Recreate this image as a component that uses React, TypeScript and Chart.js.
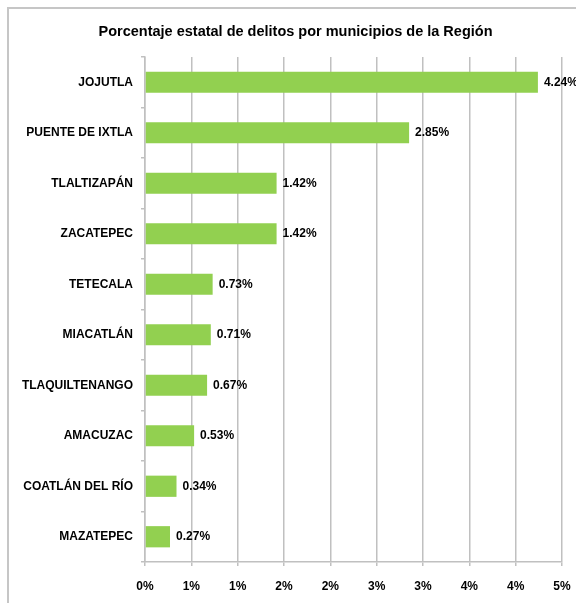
import React, { useEffect, useRef } from "react";
import { Chart, registerables } from "chart.js";

Chart.register(...registerables);

const municipios = [
  "JOJUTLA",
  "PUENTE DE IXTLA",
  "TLALTIZAPÁN",
  "ZACATEPEC",
  "TETECALA",
  "MIACATLÁN",
  "TLAQUILTENANGO",
  "AMACUZAC",
  "COATLÁN DEL RÍO",
  "MAZATEPEC",
];
const porcentajes = [4.24, 2.85, 1.42, 1.42, 0.73, 0.71, 0.67, 0.53, 0.34, 0.27];
const xTickLabels = ["0%", "1%", "1%", "2%", "2%", "3%", "3%", "4%", "4%", "5%"];
const titulo = "Porcentaje estatal de delitos por municipios de la Región";

const FONT = "'Liberation Sans', Arial, sans-serif";

const frameAndLabels = {
  id: "frameAndLabels",
  beforeDraw(chart: any) {
    const ctx = chart.ctx;
    ctx.save();
    ctx.fillStyle = "#ffffff";
    ctx.fillRect(0, 0, chart.width, chart.height);
    ctx.fillStyle = "#C6C6C6";
    ctx.fillRect(7, 7, chart.width - 7, 2);
    ctx.fillRect(7, 7, 2, chart.height - 7);
    ctx.font = `bold 14.5px ${FONT}`;
    ctx.fillStyle = "#000000";
    ctx.textAlign = "center";
    ctx.textBaseline = "middle";
    ctx.fillText(titulo, 295.5, 32);
    ctx.restore();
  },
  afterDatasetsDraw(chart: any) {
    const ctx = chart.ctx;
    const meta = chart.getDatasetMeta(0);
    const data = chart.data.datasets[0].data as number[];
    ctx.save();
    ctx.font = `bold 12px ${FONT}`;
    ctx.fillStyle = "#000000";
    ctx.textAlign = "left";
    ctx.textBaseline = "middle";
    meta.data.forEach((bar: any, i: number) => {
      ctx.fillText(`${data[i].toFixed(2)}%`, bar.x + 6, bar.y);
    });
    ctx.restore();
  },
};

export default function App() {
  const canvasRef = useRef<HTMLCanvasElement | null>(null);

  useEffect(() => {
    if (!canvasRef.current) return;
    const chart = new Chart(canvasRef.current, {
      type: "bar",
      data: {
        labels: municipios,
        datasets: [
          {
            data: porcentajes,
            backgroundColor: "#92D050",
            borderWidth: 0,
            barPercentage: 0.42,
            categoryPercentage: 1,
          },
        ],
      },
      options: {
        indexAxis: "y",
        responsive: false,
        animation: false,
        layout: { padding: { left: 0, right: 14, top: 57, bottom: 0 } },
        plugins: {
          legend: { display: false },
          tooltip: { enabled: false },
          title: { display: false },
        },
        scales: {
          x: {
            min: 0,
            max: 4.5,
            afterFit(scale: any) {
              scale.height = 41;
              scale.paddingLeft = 0;
              scale.paddingRight = 0;
            },
            ticks: {
              stepSize: 0.5,
              color: "#000000",
              font: { family: FONT, size: 12, weight: "bold" },
              padding: 13,
              maxRotation: 0,
              autoSkip: false,
              callback: (_v: any, i: number) => xTickLabels[i],
            },
            grid: {
              color: "#C0C0C0",
              lineWidth: 1.5,
              drawTicks: true,
              tickLength: 4,
            },
            border: { display: true, color: "#C0C0C0", width: 1.5 },
          },
          y: {
            afterFit(scale: any) {
              scale.width = 145;
            },
            ticks: {
              color: "#000000",
              font: { family: FONT, size: 12, weight: "bold" },
              padding: 8,
              autoSkip: false,
            },
            grid: {
              offset: true,
              drawOnChartArea: false,
              drawTicks: true,
              tickLength: 4,
              color: "#C0C0C0",
              lineWidth: 1.5,
            },
            border: { display: true, color: "#C0C0C0", width: 1.5 },
          },
        },
      },
      plugins: [frameAndLabels],
    });
    return () => chart.destroy();
  }, []);

  return (
    <div style={{ position: "absolute", left: 0, top: 0, width: 576, height: 603 }}>
      <canvas ref={canvasRef} width={576} height={603} style={{ display: "block" }} />
    </div>
  );
}
